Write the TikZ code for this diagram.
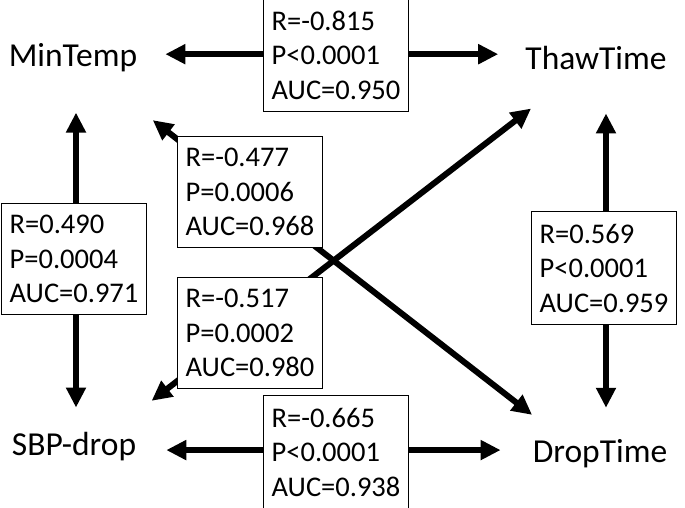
\documentclass[tikz,border=0pt]{standalone}
\usepackage{fontspec}
\setmainfont{Carlito}
\usetikzlibrary{arrows.meta}
\tikzset{
  varname/.style={inner sep=0pt, anchor=base, font=\fontsize{33.5}{40}\selectfont},
  statbox/.style={draw, fill=white, line width=0.8pt, align=left, inner xsep=8pt, inner ysep=12pt, font=\fontsize{28.5}{34.5}\selectfont},
  link/.style={line width=6pt, {Triangle[length=20pt,width=19pt]}-{Triangle[length=20pt,width=19pt]}}
}

\begin{document}
\begin{tikzpicture}[x=1pt, y=-1pt]
\useasboundingbox (0,0) rectangle (685,508);
\node[varname] (minT) at (73,67) {MinTemp};
\node[varname] (thaw) at (596,70) {ThawTime};
\node[varname] (sbp) at (74,455) {SBP-drop};
\node[varname] (drop) at (600,462) {DropTime};
\draw[link, shorten <=28pt, shorten >=27pt] ([yshift=4pt]minT.east) -- ([yshift=4pt]minT.east -| thaw.west);
\draw[link, shorten <=30pt, shorten >=32pt] ([yshift=-4pt]sbp.east) -- ([yshift=-4pt]sbp.east -| drop.west);
\draw[link, shorten <=40pt, shorten >=24pt] ([xshift=3pt]minT.south) -- ([xshift=3pt]minT.south |- sbp.north);
\draw[link, shorten <=43pt, shorten >=31pt] ([xshift=10pt]thaw.south) -- ([xshift=10pt]thaw.south |- drop.north);
\draw[link, shorten <=101pt, shorten >=86pt] (minT.center) -- (drop.south);
\draw[link, shorten <=98pt, shorten >=82pt] (sbp.south) -- (thaw.center);
\node[statbox] (boxMT) at (336,55) {R=-0.815\\P<0.0001\\AUC=0.950};
\node[statbox] (boxMS) at (74,259) {R=0.490\\P=0.0004\\AUC=0.971};
\node[statbox] (boxMD) at (250,192) {R=-0.477\\P=0.0006\\AUC=0.968};
\node[statbox] (boxST) at (250,333) {R=-0.517\\P=0.0002\\AUC=0.980};
\node[statbox] (boxTD) at (604,268) {R=0.569\\P<0.0001\\AUC=0.959};
\node[statbox] (boxSD) at (336,452) {R=-0.665\\P<0.0001\\AUC=0.938};
\end{tikzpicture}
\end{document}
